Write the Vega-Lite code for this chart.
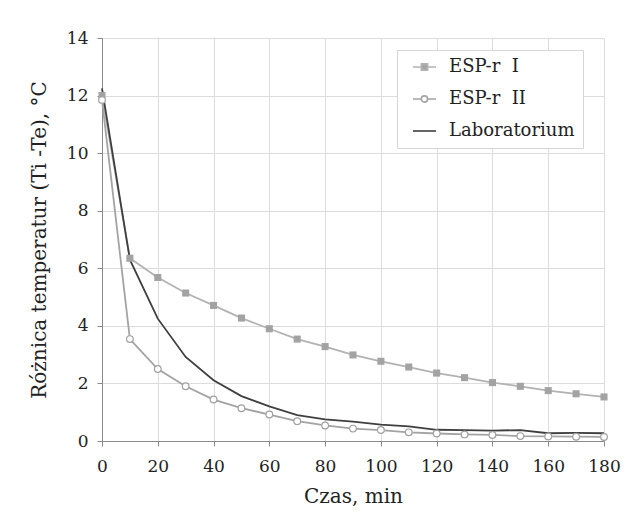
{
  "$schema": "https://vega.github.io/schema/vega-lite/v6.json",
  "width": 502,
  "height": 403,
  "autosize": "none",
  "padding": {"left": 102, "top": 38, "right": 33, "bottom": 87},
  "background": "white",
  "config": {
    "font": "DejaVu Serif",
    "view": {"stroke": null},
    "axis": {
      "domainColor": "#8a8a8a",
      "tickColor": "#8a8a8a",
      "gridColor": "#dcdcdc",
      "labelFont": "DejaVu Serif",
      "titleFont": "DejaVu Serif",
      "labelColor": "#222222",
      "titleColor": "#222222",
      "labelFontSize": 17,
      "titleFontSize": 20,
      "titleFontWeight": "normal",
      "tickSize": 5,
      "labelFlush": false
    }
  },
  "data": {
    "values": [
      {"t": 0, "s": "ESP-r  I", "v": 12.0},
      {"t": 10, "s": "ESP-r  I", "v": 6.35},
      {"t": 20, "s": "ESP-r  I", "v": 5.68},
      {"t": 30, "s": "ESP-r  I", "v": 5.14},
      {"t": 40, "s": "ESP-r  I", "v": 4.71},
      {"t": 50, "s": "ESP-r  I", "v": 4.27},
      {"t": 60, "s": "ESP-r  I", "v": 3.9},
      {"t": 70, "s": "ESP-r  I", "v": 3.54},
      {"t": 80, "s": "ESP-r  I", "v": 3.28},
      {"t": 90, "s": "ESP-r  I", "v": 2.99},
      {"t": 100, "s": "ESP-r  I", "v": 2.77},
      {"t": 110, "s": "ESP-r  I", "v": 2.57},
      {"t": 120, "s": "ESP-r  I", "v": 2.36},
      {"t": 130, "s": "ESP-r  I", "v": 2.2},
      {"t": 140, "s": "ESP-r  I", "v": 2.03},
      {"t": 150, "s": "ESP-r  I", "v": 1.9},
      {"t": 160, "s": "ESP-r  I", "v": 1.75},
      {"t": 170, "s": "ESP-r  I", "v": 1.64},
      {"t": 180, "s": "ESP-r  I", "v": 1.53},
      {"t": 0, "s": "ESP-r  II", "v": 11.85},
      {"t": 10, "s": "ESP-r  II", "v": 3.54},
      {"t": 20, "s": "ESP-r  II", "v": 2.5},
      {"t": 30, "s": "ESP-r  II", "v": 1.9},
      {"t": 40, "s": "ESP-r  II", "v": 1.44},
      {"t": 50, "s": "ESP-r  II", "v": 1.14},
      {"t": 60, "s": "ESP-r  II", "v": 0.92},
      {"t": 70, "s": "ESP-r  II", "v": 0.69},
      {"t": 80, "s": "ESP-r  II", "v": 0.54},
      {"t": 90, "s": "ESP-r  II", "v": 0.43},
      {"t": 100, "s": "ESP-r  II", "v": 0.38},
      {"t": 110, "s": "ESP-r  II", "v": 0.3},
      {"t": 120, "s": "ESP-r  II", "v": 0.26},
      {"t": 130, "s": "ESP-r  II", "v": 0.23},
      {"t": 140, "s": "ESP-r  II", "v": 0.21},
      {"t": 150, "s": "ESP-r  II", "v": 0.17},
      {"t": 160, "s": "ESP-r  II", "v": 0.16},
      {"t": 170, "s": "ESP-r  II", "v": 0.15},
      {"t": 180, "s": "ESP-r  II", "v": 0.14},
      {"t": 0, "s": "Laboratorium", "v": 12.25},
      {"t": 10, "s": "Laboratorium", "v": 6.3},
      {"t": 20, "s": "Laboratorium", "v": 4.25},
      {"t": 30, "s": "Laboratorium", "v": 2.92},
      {"t": 40, "s": "Laboratorium", "v": 2.11},
      {"t": 50, "s": "Laboratorium", "v": 1.56},
      {"t": 60, "s": "Laboratorium", "v": 1.2},
      {"t": 70, "s": "Laboratorium", "v": 0.9},
      {"t": 80, "s": "Laboratorium", "v": 0.75},
      {"t": 90, "s": "Laboratorium", "v": 0.67},
      {"t": 100, "s": "Laboratorium", "v": 0.57},
      {"t": 110, "s": "Laboratorium", "v": 0.51},
      {"t": 120, "s": "Laboratorium", "v": 0.39},
      {"t": 130, "s": "Laboratorium", "v": 0.38},
      {"t": 140, "s": "Laboratorium", "v": 0.36},
      {"t": 150, "s": "Laboratorium", "v": 0.38},
      {"t": 160, "s": "Laboratorium", "v": 0.27},
      {"t": 170, "s": "Laboratorium", "v": 0.28},
      {"t": 180, "s": "Laboratorium", "v": 0.27}
    ]
  },
  "encoding": {
    "x": {
      "field": "t", "type": "quantitative",
      "scale": {"domain": [0, 180], "nice": false},
      "axis": {"values": [0, 20, 40, 60, 80, 100, 120, 140, 160, 180], "title": "Czas, min", "labelPadding": 12, "titlePadding": 12}
    },
    "y": {
      "field": "v", "type": "quantitative",
      "scale": {"domain": [0, 14], "nice": false},
      "axis": {"values": [0, 2, 4, 6, 8, 10, 12, 14], "title": "Różnica temperatur (Ti -Te), °C", "labelPadding": 9, "titlePadding": 17}
    }
  },
  "layer": [
    {
      "mark": {"type": "line", "strokeWidth": 1.8},
      "encoding": {
        "color": {
          "field": "s", "type": "nominal",
          "scale": {"domain": ["ESP-r  I", "ESP-r  II", "Laboratorium"], "range": ["#b2b2b2", "#a3a3a3", "#3f3f3f"]},
          "legend": {
            "title": null,
            "orient": "none",
            "legendX": 295,
            "legendY": 12,
            "direction": "vertical",
            "strokeColor": "#d6d6d6",
            "fillColor": "white",
            "padding": 8,
            "labelFont": "DejaVu Serif",
            "labelFontSize": 18,
            "labelColor": "#222222",
            "labelOffset": 26,
            "rowPadding": 14,
            "symbolSize": 256,
            "symbolStrokeWidth": 1.6,
            "encode": {
              "labels": {"update": {"text": {"signal": "replace(datum.label, '  ', '\u00a0\u00a0')"}}},
              "symbols": {
                "update": {
                  "shape": {"signal": "datum.value === 'ESP-r  I' ? 'M-0.13,0H0.92M1.7,0H2.75M0.92,-0.39H1.7V0.39H0.92Z' : datum.value === 'ESP-r  II' ? 'M-0.13,0H0.92M1.7,0A0.39,0.39 0 1,1 0.92,0A0.39,0.39 0 1,1 1.7,0M1.7,0H2.75' : 'M-0.13,0H2.75'"},
                  "fill": {"signal": "datum.value === 'ESP-r  I' ? '#a6a6a6' : datum.value === 'ESP-r  II' ? '#ffffff' : 'transparent'"},
                  "stroke": {"signal": "datum.value === 'Laboratorium' ? '#3f3f3f' : '#a6a6a6'"}
                }
              }
            }
          }
        }
      }
    },
    {
      "transform": [{"filter": "datum.s === 'ESP-r  I'"}],
      "mark": {"type": "point", "shape": "square", "filled": true, "color": "#a3a3a3", "size": 50, "opacity": 1}
    },
    {
      "transform": [{"filter": "datum.s === 'ESP-r  II'"}],
      "mark": {"type": "point", "shape": "circle", "filled": true, "fill": "white", "stroke": "#a0a0a0", "strokeWidth": 1.2, "size": 45, "opacity": 1}
    }
  ]
}
